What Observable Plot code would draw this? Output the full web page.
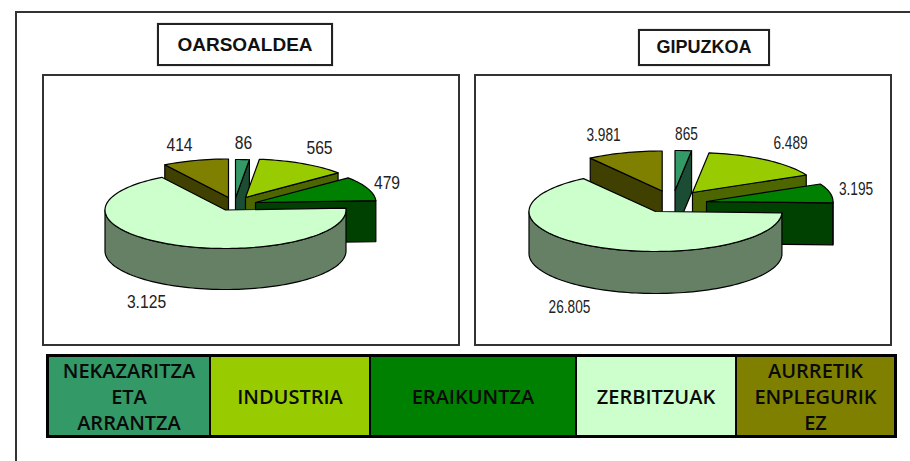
<!DOCTYPE html>
<html><head><meta charset="utf-8">
<script src="https://cdn.jsdelivr.net/npm/d3@7"></script>
<script src="https://cdn.jsdelivr.net/npm/@observablehq/plot@0.6"></script>
<style>
html,body{margin:0;padding:0;background:#fff;overflow:hidden;width:910px;height:461px}
#page{position:relative;width:910px;height:461px;overflow:hidden}
.abs{position:absolute;box-sizing:border-box}
.title{border:2px solid #222;display:flex;align-items:center;justify-content:center;font-family:"Liberation Sans",Arial,sans-serif;font-weight:bold;color:#111;background:#fff;box-shadow:0 0 1px #888}
.frame{border:2px solid #333;background:#fff}
.cell{display:flex;align-items:center;justify-content:center;text-align:center;font-family:"Open Sans",sans-serif;font-weight:600;font-size:20px;line-height:26px;padding-top:2px;color:#0a0a0a;white-space:pre-line}
</style></head>
<body><div id="page"></div>
<script>
// ---------- data ----------
const categories = ["NEKAZARITZA\nETA\nARRANTZA", "INDUSTRIA", "ERAIKUNTZA", "ZERBITZUAK", "AURRETIK\nENPLEGURIK\nEZ"];
const oarsoaldea = [86, 565, 479, 3125, 414];
const gipuzkoa = [865, 6489, 3195, 26805, 3981];
const topColors = ["#339966", "#99cc00", "#008000", "#ccffcc", "#808000"];
const sideColors = ["#1a4d33", "#4d6600", "#004000", "#668066", "#404000"];

// ---------- layout ----------
const pieLayouts = [
  {name: "OARSOALDEA", values: oarsoaldea, left: 42, top: 74, width: 418, height: 272,
   cx: 225, cy: 209.5, rx: 120.5, ry: 38.5, depth: 41,
   explode: [[10,-12],[20,-12.5],[30,-7.5],[0,0],[3,-12.5]],
   labels: [[243,143],[319,148],[386.5,183],[146,302],[179,145]],
   labelSize: 18, labelScale: .87,
   titleBox: [157,23,176,43], titleSize: 19},
  {name: "GIPUZKOA", values: gipuzkoa, left: 474, top: 74, width: 418, height: 272,
   cx: 655, cy: 211, rx: 126.5, ry: 40, depth: 42,
   explode: [[19.5,-21],[37,-19],[51,-10],[0,0],[6.7,-20.5]],
   labels: [[686,134],[790,143],[855.5,189],[569,307],[603,135]],
   labelSize: 18, labelScale: .76,
   titleBox: [638,29,132,37], titleSize: 18}
];
const legendEdges = [46, 210, 370, 576, 736, 897];
const drawOrder = [0, 1, 2, 4, 3];
const fmt = d3.formatLocale({decimal: ",", thousands: ".", grouping: [3], currency: ["", ""]}).format(",d");
const page = d3.select("#page");

page.append("div").attr("class", "abs").style("left", "15px").style("top", "11px")
  .style("width", "1000px").style("height", "1000px").style("border", "2px solid #333");

function rim(o, deg, dz) {
  const t = deg * Math.PI / 180;
  return {x: o[0] + Math.sin(t), y: o[1] - Math.cos(t) + dz};
}
function arc(o, a, b, dz) {
  const n = Math.max(2, Math.ceil(Math.abs(b - a) / 2));
  return d3.range(n + 1).map(i => rim(o, a + (b - a) * i / n, dz));
}
function slicesMarks(L) {
  const total = d3.sum(L.values), dz = L.depth / L.ry;
  let acc = 0;
  const slices = L.values.map((v, i) => {
    const a = acc / total * 360; acc += v;
    return {i, a, b: acc / total * 360, o: [L.explode[i][0] / L.rx, L.explode[i][1] / L.ry]};
  });
  const poly = (pts, fill) => Plot.line(pts, {x: "x", y: "y", fill, stroke: "#000", strokeWidth: 1.2, curve: "linear-closed", strokeLinejoin: "round"});
  const marks = [];
  for (const k of drawOrder) {
    const {i, a, b, o} = slices[k], apex = {x: o[0], y: o[1]}, apexD = {x: o[0], y: o[1] + dz};
    // cut faces that look toward the viewer
    if (Math.cos((a - 90) * Math.PI / 180) < -0.001)
      marks.push(poly([apex, rim(o, a, 0), rim(o, a, dz), apexD], sideColors[i]));
    if (Math.cos((b + 90) * Math.PI / 180) < -0.001)
      marks.push(poly([apex, rim(o, b, 0), rim(o, b, dz), apexD], sideColors[i]));
    // outer wall
    const s = Math.max(a, 90), e = Math.min(b, 270);
    if (e > s) marks.push(poly([...arc(o, s, e, 0), ...arc(o, e, s, dz)], sideColors[i]));
    // top face
    marks.push(poly([apex, ...arc(o, a, b, 0)], topColors[i]));
  }
  return marks;
}

for (const L of pieLayouts) {
  const [tx, ty, tw, th] = L.titleBox;
  page.append("div").attr("class", "abs title")
    .style("left", tx + "px").style("top", ty + "px").style("width", tw + "px").style("height", th + "px")
    .style("font-size", L.titleSize + "px").text(L.name);
  const box = page.append("div").attr("class", "abs frame")
    .style("left", L.left + "px").style("top", L.top + "px").style("width", L.width + "px").style("height", L.height + "px");
  const labelData = L.values.map((v, i) => ({
    x: (L.labels[i][0] - L.cx) / L.rx, y: (L.labels[i][1] - L.cy) / L.ry, text: fmt(v)
  }));
  const chart = Plot.plot({
    width: L.width, height: L.height, margin: 0,
    x: {axis: null, domain: [(L.left - L.cx) / L.rx, (L.left + L.width - L.cx) / L.rx], range: [0, L.width]},
    y: {axis: null, domain: [(L.top - L.cy) / L.ry, (L.top + L.height - L.cy) / L.ry], range: [0, L.height]},
    style: {background: "none", overflow: "visible", maxWidth: "none"},
    marks: [
      ...slicesMarks(L),
      Plot.text(labelData, {x: "x", y: "y", text: "text", fill: "#222", fontSize: L.labelSize, fontFamily: "Liberation Sans, Arial, sans-serif", textAnchor: "middle", lineAnchor: "middle"})
    ]
  });
  // narrow the label glyphs as in the source picture
  d3.select(chart).selectAll("text").each(function () {
    const t = d3.select(this);
    t.attr("transform", (t.attr("transform") || "") + ` scale(${L.labelScale},1)`);
  });
  box.append("div").style("position", "absolute").style("left", "-2px").style("top", "-2px")
    .style("width", L.width + "px").style("height", L.height + "px").node().appendChild(chart);
}

// ---------- legend ----------
page.append("div").attr("class", "abs").style("left", legendEdges[0] + "px").style("top", "354px")
  .style("width", (legendEdges[5] - legendEdges[0]) + "px").style("height", "84px").style("background", "#000");
categories.forEach((c, i) => {
  const l = legendEdges[i] + (i === 0 ? 3 : 1), r = legendEdges[i + 1] - (i === 4 ? 3 : 1);
  page.append("div").attr("class", "abs cell")
    .style("left", l + "px").style("top", "357px").style("width", (r - l) + "px").style("height", "78px")
    .style("background", topColors[i]).text(c);
});
</script></body></html>
